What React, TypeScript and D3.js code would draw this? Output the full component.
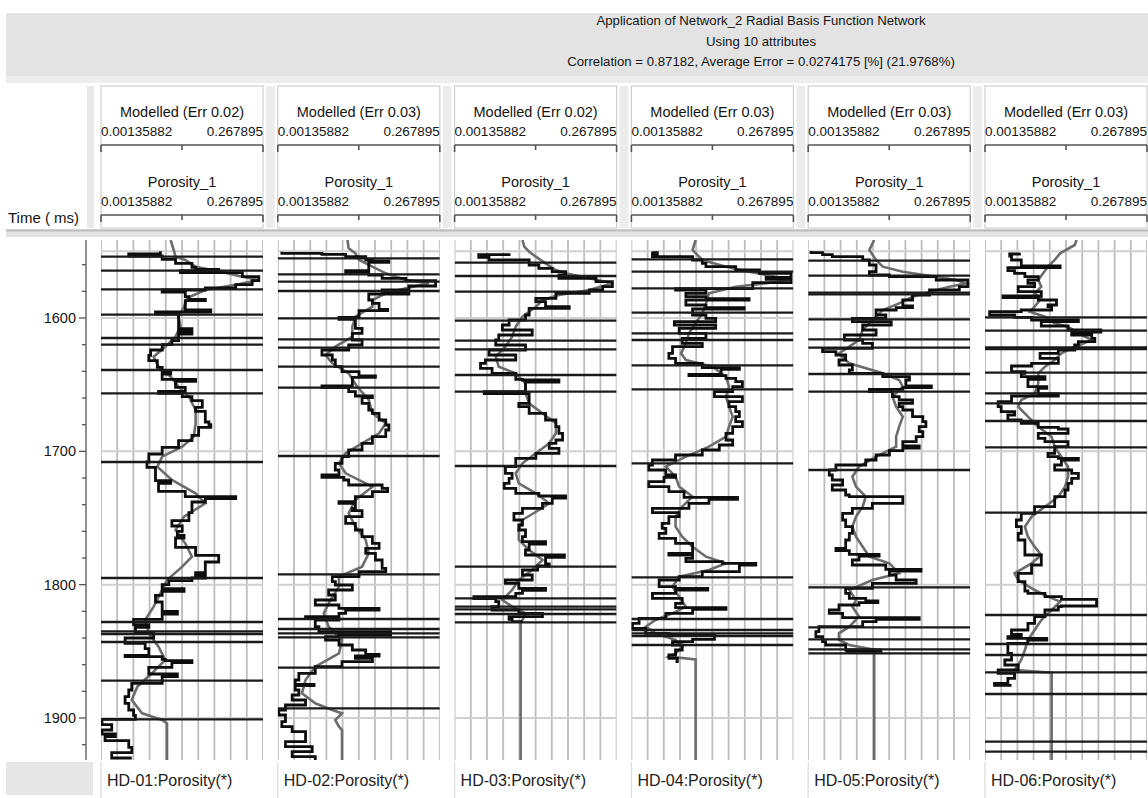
import React, { useEffect } from "react";
import * as d3 from "d3";

const wells = ["HD-01", "HD-02", "HD-03", "HD-04", "HD-05", "HD-06"];
const modelErrors = [0.02, 0.03, 0.02, 0.03, 0.03, 0.03];
const rangeMin = 0.00135882;
const rangeMax = 0.267895;
const timeTicks = [1600, 1700, 1800, 1900];
const titleLines = [
  "Application of Network_2 Radial Basis Function Network",
  "Using 10 attributes",
  "Correlation = 0.87182, Average Error = 0.0274175 [%] (21.9768%)",
];

// [time ms, porosity] – measured log (step) and network output
const actual01 = [
  [1550, 0.099], [1552, 0.047], [1553.5, 0.102], [1556, 0.124], [1559, 0.151], [1562, 0.157],
  [1563.5, 0.195], [1564.5, 0.132], [1566, 0.234], [1569, 0.261], [1572, 0.25], [1575, 0.223],
  [1577.5, 0.173], [1579, 0.102], [1580.5, 0.14], [1584, 0.146], [1586, 0.173], [1587, 0.14],
  [1594, 0.182], [1595.5, 0.091], [1597, 0.129], [1608, 0.151], [1609.5, 0.129], [1611, 0.151],
  [1612, 0.129], [1617, 0.118], [1620, 0.102], [1624, 0.083], [1628, 0.08], [1632, 0.094],
  [1637, 0.102], [1640, 0.116], [1642, 0.102], [1646, 0.157], [1647.5, 0.124], [1652, 0.14],
  [1655, 0.096], [1656.5, 0.135], [1659, 0.151], [1662, 0.168], [1667, 0.157], [1670, 0.173],
  [1678, 0.179], [1680, 0.182], [1682, 0.162], [1688, 0.151], [1692, 0.129], [1697, 0.102],
  [1702, 0.08], [1708, 0.077], [1712, 0.091], [1722, 0.116], [1724, 0.096], [1730, 0.14],
  [1734, 0.223], [1735.5, 0.173], [1738, 0.151], [1746, 0.146], [1752, 0.118], [1756, 0.135],
  [1760, 0.127], [1763, 0.138], [1765, 0.124], [1772, 0.157], [1778, 0.195], [1783, 0.173],
  [1791, 0.157], [1793, 0.173], [1795, 0.151], [1797, 0.113], [1800, 0.102], [1803, 0.138],
  [1805, 0.102], [1808, 0.091], [1813, 0.102], [1820, 0.127], [1822, 0.102], [1826, 0.055],
  [1830, 0.08], [1832, 0.058], [1836, 0.088], [1840, 0.041], [1844, 0.074], [1848, 0.08],
  [1853, 0.041], [1854, 0.102], [1856, 0.107], [1857, 0.151], [1858.5, 0.118], [1862, 0.08],
  [1867, 0.127], [1869, 0.102], [1874, 0.052], [1879, 0.047], [1884, 0.041], [1889, 0.047],
  [1894, 0.055], [1898, 0.058], [1901, 0.003], [1905, 0.019], [1909, 0.003], [1912, 0.025],
  [1914, 0.008], [1917, 0.047], [1922, 0.052], [1926, 0.019], [1930, 0.052],
];
const modelled01 = [
  [1541.5, 0.116], [1549, 0.121], [1554, 0.124], [1556.5, 0.14], [1561.5, 0.157], [1565, 0.195],
  [1569, 0.234], [1571.5, 0.261], [1575, 0.223], [1579, 0.173], [1585, 0.143], [1591.5, 0.138],
  [1599, 0.129], [1606.5, 0.132], [1614, 0.124], [1621.5, 0.107], [1629, 0.088], [1636.5, 0.096],
  [1644, 0.116], [1651.5, 0.129], [1659, 0.146], [1669, 0.157], [1679, 0.157], [1689, 0.154],
  [1696.5, 0.135], [1704, 0.102], [1711.5, 0.094], [1721.5, 0.118], [1731.5, 0.157], [1739, 0.173],
  [1749, 0.138], [1759, 0.124], [1769, 0.14], [1779, 0.151], [1786.5, 0.135], [1796.5, 0.11],
  [1806.5, 0.099], [1816.5, 0.088], [1826.5, 0.074], [1836.5, 0.08], [1846.5, 0.096], [1856.5, 0.107],
  [1866.5, 0.085], [1876.5, 0.061], [1886.5, 0.052], [1896.5, 0.069], [1901.5, 0.102], [1904, 0.11],
  [1933, 0.11],
];
const spikes01 = [1554, 1564.5, 1578.5, 1597.5, 1615, 1620, 1639, 1656.5, 1708, 1795, 1828, 1835, 1837, 1843, 1872, 1901];

const actual02 = [
  [1550.25, 0.008], [1551.5, 0.074], [1552.25, 0.113], [1554, 0.146], [1556.5, 0.157], [1557.25, 0.184],
  [1558.25, 0.151], [1564.5, 0.113], [1565.75, 0.151], [1567.75, 0.173], [1570.25, 0.212], [1572, 0.261],
  [1576, 0.217], [1579, 0.173], [1581, 0.217], [1582, 0.151], [1586.5, 0.157], [1589, 0.168],
  [1593.5, 0.182], [1594.5, 0.135], [1599.5, 0.102], [1601, 0.129], [1607.75, 0.14], [1611.5, 0.124],
  [1616.5, 0.14], [1620.25, 0.118], [1624, 0.074], [1627.75, 0.091], [1631.5, 0.096], [1636.5, 0.107],
  [1640.25, 0.135], [1643.5, 0.162], [1644.5, 0.124], [1651, 0.074], [1652.25, 0.118], [1655.25, 0.129],
  [1658.5, 0.157], [1659.75, 0.14], [1664, 0.151], [1669, 0.157], [1671.5, 0.168], [1676.5, 0.179],
  [1680.25, 0.184], [1684, 0.179], [1689, 0.157], [1694, 0.14], [1699, 0.118], [1704, 0.107],
  [1709, 0.096], [1714, 0.102], [1717.75, 0.074], [1719.5, 0.11], [1721.5, 0.118], [1725.25, 0.173],
  [1727.75, 0.182], [1730.25, 0.157], [1734, 0.129], [1737.75, 0.102], [1739, 0.129], [1742.75, 0.124],
  [1744.5, 0.14], [1749, 0.113], [1754, 0.129], [1759, 0.14], [1764, 0.157], [1769, 0.168],
  [1772.75, 0.146], [1776.5, 0.162], [1781.5, 0.173], [1787.75, 0.179], [1790.25, 0.135], [1794, 0.091],
  [1797.75, 0.096], [1800.25, 0.124], [1804, 0.085], [1807.75, 0.096], [1811.5, 0.063], [1815.25, 0.102],
  [1817.75, 0.168], [1819, 0.113], [1821.5, 0.102], [1824, 0.047], [1825.5, 0.102], [1826.5, 0.063],
  [1831.5, 0.069], [1835.25, 0.187], [1837.75, 0.102], [1839, 0.08], [1841.5, 0.102], [1845.25, 0.124],
  [1849, 0.146], [1852.25, 0.168], [1853.5, 0.129], [1855.25, 0.157], [1857.75, 0.107], [1861.5, 0.063],
  [1866.5, 0.036], [1871.5, 0.03], [1874.75, 0.061], [1875.75, 0.03], [1879, 0.036], [1882.75, 0.025],
  [1886.5, 0.047], [1890.25, 0.014], [1894, 0.003], [1897.75, 0.014], [1902.75, 0.008], [1906.5, 0.025],
  [1910.25, 0.047], [1917.75, 0.014], [1921.5, 0.058], [1925.25, 0.025], [1929, 0.063], [1932.75, 0.025],
];
const modelled02 = [
  [1541.5, 0.116], [1547.75, 0.118], [1551.5, 0.129], [1556.5, 0.135], [1561.5, 0.157], [1566.5, 0.179],
  [1571.5, 0.212], [1574, 0.25], [1577.75, 0.212], [1581.5, 0.179], [1586.5, 0.157], [1591.5, 0.157],
  [1599, 0.129], [1606.5, 0.124], [1614, 0.124], [1621.5, 0.096], [1627.75, 0.08], [1634, 0.091],
  [1641.5, 0.118], [1651.5, 0.132], [1661.5, 0.151], [1671.5, 0.157], [1679, 0.179], [1686.5, 0.168],
  [1694, 0.14], [1701.5, 0.113], [1709, 0.102], [1716.5, 0.113], [1726.5, 0.157], [1736.5, 0.129],
  [1746.5, 0.118], [1756.5, 0.129], [1766.5, 0.146], [1776.5, 0.151], [1786.5, 0.14], [1794, 0.102],
  [1801.5, 0.102], [1811.5, 0.088], [1821.5, 0.077], [1831.5, 0.085], [1841.5, 0.107], [1851.5, 0.102],
  [1861.5, 0.063], [1871.5, 0.047], [1881.5, 0.041], [1889, 0.063], [1894, 0.091], [1896.5, 0.107],
  [1901.5, 0.096], [1906.5, 0.102], [1909, 0.107], [1933, 0.107],
];
const spikes02 = [1555.25, 1567.25, 1572.75, 1579.75, 1600.25, 1616, 1622.25, 1636.5, 1652.25, 1703.5, 1792.25, 1825.75, 1833.25, 1836.5, 1839.5, 1862.25, 1892.75];

const actual03 = [
  [1551.5, 0.091], [1552.5, 0.041], [1554.5, 0.058], [1556.5, 0.124], [1560.25, 0.14], [1562.75, 0.162],
  [1565.25, 0.184], [1567.75, 0.173], [1570.25, 0.234], [1572.75, 0.261], [1576.5, 0.245], [1579, 0.223],
  [1581.5, 0.168], [1585.25, 0.135], [1587.75, 0.151], [1591.5, 0.19], [1592.75, 0.124], [1597.75, 0.118],
  [1601.5, 0.091], [1605.25, 0.08], [1609, 0.129], [1612.75, 0.074], [1616.5, 0.069], [1620.25, 0.118],
  [1624, 0.058], [1627.75, 0.102], [1631.5, 0.052], [1634, 0.044], [1637.75, 0.063], [1641.5, 0.102],
  [1646, 0.113], [1646.5, 0.173], [1648, 0.118], [1655.25, 0.05], [1656.75, 0.124], [1664, 0.107],
  [1666.5, 0.124], [1671.5, 0.151], [1676.5, 0.168], [1681.5, 0.173], [1686.5, 0.179], [1691.5, 0.168],
  [1694, 0.157], [1697.75, 0.173], [1701.5, 0.135], [1705.25, 0.102], [1711.5, 0.085], [1716.5, 0.096],
  [1720.25, 0.091], [1724, 0.083], [1727.75, 0.102], [1731.5, 0.14], [1733.5, 0.184], [1735, 0.162],
  [1739, 0.146], [1742.75, 0.113], [1746.5, 0.099], [1751.5, 0.113], [1755.25, 0.107], [1759, 0.118],
  [1764, 0.113], [1767.75, 0.151], [1769.5, 0.124], [1774, 0.118], [1777.75, 0.182], [1779.5, 0.151],
  [1784.5, 0.157], [1786, 0.138], [1789, 0.113], [1792.75, 0.129], [1796.5, 0.085], [1799, 0.107],
  [1802.75, 0.151], [1804.25, 0.113], [1806.5, 0.102], [1809, 0.033], [1810.5, 0.069], [1812.75, 0.074],
  [1816.5, 0.063], [1819, 0.107], [1821.5, 0.146], [1824, 0.091], [1826, 0.096], [1827.75, 0.113],
];
const modelled03 = [
  [1541.5, 0.113], [1546.5, 0.116], [1550.25, 0.124], [1554, 0.135], [1559, 0.151], [1564, 0.168],
  [1566.5, 0.184], [1570.25, 0.223], [1574, 0.261], [1579, 0.223], [1582.75, 0.173], [1586.5, 0.146],
  [1591.5, 0.135], [1599, 0.113], [1606.5, 0.102], [1614, 0.096], [1621.5, 0.085], [1629, 0.069],
  [1636.5, 0.074], [1641.5, 0.102], [1649, 0.118], [1656.5, 0.118], [1664, 0.124], [1671.5, 0.146],
  [1679, 0.168], [1686.5, 0.168], [1694, 0.157], [1701.5, 0.135], [1709, 0.113], [1716.5, 0.102],
  [1724, 0.107], [1731.5, 0.135], [1739, 0.157], [1744, 0.14], [1751.5, 0.113], [1759, 0.107],
  [1766.5, 0.107], [1774, 0.124], [1781.5, 0.146], [1789, 0.129], [1796.5, 0.107], [1804, 0.096],
  [1811.5, 0.08], [1816.5, 0.096], [1821.5, 0.118], [1826.5, 0.113], [1829, 0.11], [1933, 0.11],
];
const spikes03 = [1558.5, 1568.5, 1580.25, 1602, 1617, 1623.5, 1642.75, 1655.25, 1711, 1786.5, 1810.25, 1816.5, 1818.5, 1822, 1828.25];

const actual04 = [
  [1550.25, 0.036], [1551, 0.044], [1552.75, 0.036], [1554, 0.102], [1556.5, 0.118], [1559, 0.124],
  [1561.5, 0.173], [1564, 0.212], [1566.5, 0.264], [1569.5, 0.223], [1571, 0.264], [1573.5, 0.201],
  [1578, 0.074], [1579, 0.124], [1581.5, 0.091], [1584, 0.124], [1585.5, 0.195], [1586.5, 0.091],
  [1590.25, 0.124], [1592.25, 0.187], [1593.25, 0.102], [1597.75, 0.124], [1600.25, 0.14], [1602.75, 0.072],
  [1605.25, 0.14], [1607.75, 0.08], [1611.5, 0.124], [1615.25, 0.085], [1619, 0.118], [1621.5, 0.069],
  [1626.5, 0.063], [1630.25, 0.074], [1634, 0.118], [1637.25, 0.179], [1638.5, 0.149], [1642.25, 0.096],
  [1643.25, 0.157], [1645.25, 0.173], [1647.75, 0.184], [1651.5, 0.168], [1655.25, 0.138], [1659, 0.184],
  [1662.75, 0.162], [1666.5, 0.173], [1670.25, 0.179], [1674, 0.173], [1677.75, 0.184], [1681.5, 0.168],
  [1686.5, 0.157], [1691.5, 0.168], [1695.25, 0.146], [1699, 0.118], [1702.75, 0.074], [1706.5, 0.036],
  [1710.25, 0.03], [1714, 0.058], [1717.75, 0.074], [1719.5, 0.055], [1722.75, 0.03], [1726.5, 0.063],
  [1730.25, 0.088], [1734.5, 0.176], [1736, 0.129], [1739, 0.096], [1742.75, 0.036], [1746, 0.08],
  [1749, 0.063], [1754, 0.052], [1757.75, 0.058], [1761.5, 0.047], [1765.25, 0.074], [1769, 0.102],
  [1776.5, 0.063], [1777.75, 0.102], [1780.25, 0.091], [1782.75, 0.151], [1784, 0.206], [1785.25, 0.179],
  [1790.25, 0.118], [1794, 0.08], [1796.5, 0.047], [1801.5, 0.074], [1802.75, 0.127], [1804, 0.074],
  [1806.5, 0.036], [1810.25, 0.085], [1814, 0.074], [1817.25, 0.157], [1818.5, 0.102], [1821.5, 0.058],
  [1825.25, 0.014], [1829, 0.003], [1832.75, 0.025], [1836.5, 0.063], [1837.75, 0.138], [1841, 0.102],
  [1842.75, 0.069], [1845.25, 0.085], [1849, 0.074], [1852.75, 0.063], [1855.25, 0.077], [1857.75, 0.074],
];
const modelled04 = [
  [1541.5, 0.107], [1549, 0.102], [1556.5, 0.118], [1561.5, 0.157], [1565.25, 0.195], [1569, 0.239],
  [1571.5, 0.261], [1574, 0.223], [1576.5, 0.173], [1581.5, 0.129], [1589, 0.124], [1596.5, 0.118],
  [1604, 0.107], [1611.5, 0.096], [1619, 0.091], [1626.5, 0.083], [1631.5, 0.091], [1636.5, 0.135],
  [1644, 0.157], [1651.5, 0.162], [1659, 0.157], [1666.5, 0.162], [1674, 0.168], [1681.5, 0.162],
  [1689, 0.157], [1696.5, 0.129], [1704, 0.091], [1711.5, 0.058], [1719, 0.074], [1726.5, 0.08],
  [1734, 0.102], [1741.5, 0.085], [1749, 0.074], [1756.5, 0.074], [1764, 0.085], [1771.5, 0.102],
  [1779, 0.124], [1784, 0.157], [1789, 0.129], [1794, 0.08], [1801.5, 0.069], [1809, 0.08],
  [1816.5, 0.091], [1821.5, 0.069], [1826.5, 0.041], [1831.5, 0.025], [1836.5, 0.041], [1841.5, 0.074],
  [1846.5, 0.085], [1851.5, 0.074], [1854, 0.063], [1856, 0.107], [1933, 0.107],
];
const spikes04 = [1556, 1565.25, 1577.75, 1596, 1611.5, 1616.5, 1635.5, 1653.5, 1709, 1794.5, 1825.75, 1834, 1836.5, 1838.5, 1845.25];

const actual05 = [
  [1549.75, 0.006], [1551, 0.025], [1552.5, 0.041], [1554, 0.091], [1556.5, 0.102], [1560.25, 0.113],
  [1565.25, 0.102], [1567.75, 0.135], [1569, 0.212], [1571.5, 0.264], [1576.5, 0.25], [1579, 0.201],
  [1582.75, 0.173], [1586.5, 0.157], [1591, 0.173], [1592.25, 0.146], [1594, 0.113], [1597.75, 0.129],
  [1600.25, 0.074], [1602.75, 0.138], [1605.25, 0.091], [1609, 0.113], [1612.75, 0.061], [1616.5, 0.091],
  [1619, 0.107], [1622.75, 0.025], [1625.25, 0.047], [1627.75, 0.063], [1631.5, 0.052], [1635.25, 0.074],
  [1639, 0.069], [1641.5, 0.124], [1644, 0.168], [1646.5, 0.162], [1651, 0.204], [1652.25, 0.157],
  [1653.5, 0.102], [1655.25, 0.14], [1659, 0.151], [1661.5, 0.173], [1664, 0.151], [1666.5, 0.157],
  [1669, 0.173], [1674, 0.19], [1677.75, 0.195], [1681.5, 0.184], [1685.25, 0.19], [1689, 0.179],
  [1692.75, 0.157], [1696, 0.184], [1697.5, 0.157], [1699.5, 0.135], [1702.75, 0.113], [1706.5, 0.096],
  [1710.25, 0.047], [1714, 0.036], [1717.75, 0.041], [1721.5, 0.058], [1725.25, 0.041], [1729, 0.063],
  [1732.75, 0.069], [1734, 0.157], [1739, 0.107], [1742.75, 0.074], [1746.5, 0.058], [1751.5, 0.063],
  [1756.5, 0.074], [1761.5, 0.069], [1766.5, 0.063], [1772.75, 0.047], [1774.5, 0.069], [1777.25, 0.118],
  [1778.5, 0.085], [1781.5, 0.074], [1785.25, 0.129], [1788.5, 0.187], [1789.75, 0.135], [1792.75, 0.146],
  [1796.5, 0.179], [1799, 0.107], [1802.75, 0.063], [1806.5, 0.069], [1810.25, 0.096], [1812.25, 0.116],
  [1813.5, 0.085], [1815.25, 0.052], [1819, 0.036], [1821.5, 0.058], [1824.75, 0.184], [1826, 0.113],
  [1827.75, 0.091], [1831.5, 0.019], [1835.25, 0.014], [1839, 0.025], [1842.75, 0.03], [1845.25, 0.063],
  [1849, 0.121], [1850, 0.063],
];
const modelled05 = [
  [1541.5, 0.11], [1549, 0.102], [1556.5, 0.113], [1561.5, 0.124], [1565.25, 0.157], [1569, 0.212],
  [1571.5, 0.245], [1574, 0.261], [1576.5, 0.234], [1579, 0.212], [1584, 0.173], [1589, 0.151],
  [1594, 0.124], [1601.5, 0.107], [1609, 0.091], [1616.5, 0.085], [1621.5, 0.069], [1626.5, 0.052],
  [1634, 0.069], [1641.5, 0.124], [1646.5, 0.151], [1651.5, 0.157], [1659, 0.14], [1666.5, 0.146],
  [1674, 0.157], [1681.5, 0.151], [1689, 0.146], [1696.5, 0.146], [1704, 0.113], [1711.5, 0.085],
  [1719, 0.074], [1726.5, 0.08], [1734, 0.096], [1741.5, 0.091], [1749, 0.08], [1756.5, 0.074],
  [1764, 0.08], [1771.5, 0.091], [1779, 0.102], [1784, 0.135], [1791.5, 0.151], [1796.5, 0.107],
  [1804, 0.069], [1811.5, 0.08], [1816.5, 0.074], [1824, 0.085], [1831.5, 0.069], [1836.5, 0.052],
  [1841.5, 0.052], [1845.25, 0.069], [1849, 0.113], [1850, 0.11], [1933, 0.11],
];
const spikes05 = [1557, 1568.25, 1581, 1582.25, 1601, 1616, 1622.25, 1642, 1655.25, 1714, 1802, 1832, 1841, 1848.5, 1851.5];

const actual06 = [
  [1551, 0.058], [1552, 0.042], [1553.5, 0.045], [1556.5, 0.061], [1561, 0.125], [1562.25, 0.039],
  [1564.5, 0.05], [1566.5, 0.067], [1569, 0.089], [1571.5, 0.072], [1574, 0.083], [1576.5, 0.056],
  [1580.25, 0.094], [1583.5, 0.031], [1584.75, 0.089], [1586.5, 0.119], [1590.25, 0.105], [1591.5, 0.111],
  [1594, 0.061], [1595.25, 0.009], [1597.75, 0.05], [1599.5, 0.078], [1601.5, 0.155], [1602.75, 0.094],
  [1606, 0.138], [1609, 0.192], [1610.5, 0.144], [1612.75, 0.177], [1615.25, 0.182], [1617.75, 0.155],
  [1620.25, 0.149], [1624, 0.122], [1626.5, 0.092], [1630.25, 0.122], [1634, 0.078], [1636, 0.045],
  [1640.25, 0.067], [1641.5, 0.061], [1644, 0.1], [1646, 0.072], [1651.5, 0.103], [1652.75, 0.089],
  [1657, 0.122], [1658.5, 0.045], [1662.75, 0.023], [1666.5, 0.028], [1670.25, 0.05], [1672.75, 0.039],
  [1676.5, 0.061], [1679, 0.089], [1682, 0.122], [1683.25, 0.138], [1686.5, 0.089], [1690.25, 0.1],
  [1692.75, 0.138], [1696.5, 0.116], [1701.5, 0.105], [1704, 0.122], [1705.25, 0.155], [1706.5, 0.127],
  [1710.25, 0.116], [1714, 0.144], [1716.5, 0.155], [1720.25, 0.144], [1724, 0.138], [1729, 0.133],
  [1734, 0.116], [1741.5, 0.083], [1746.5, 0.061], [1751.5, 0.053], [1756.5, 0.061], [1761.5, 0.056],
  [1766.5, 0.067], [1777.75, 0.094], [1785.25, 0.078], [1791.5, 0.056], [1797.75, 0.067], [1804.75, 0.072],
  [1806.5, 0.1], [1809, 0.127], [1811, 0.185], [1816, 0.127], [1816.5, 0.122], [1819, 0.1],
  [1824, 0.083], [1829, 0.072], [1834, 0.045], [1837.25, 0.061], [1839, 0.039], [1840.25, 0.103],
  [1841.5, 0.072], [1844, 0.039], [1851.5, 0.045], [1856.5, 0.034], [1860.25, 0.056], [1864, 0.023],
  [1866.5, 0.05], [1870.25, 0.039], [1874, 0.017], [1875.5, 0.045],
];
const modelled06 = [
  [1541.5, 0.152], [1545.25, 0.149], [1551.5, 0.125], [1556.5, 0.116], [1561.5, 0.105], [1566.5, 0.097],
  [1571.5, 0.089], [1576.5, 0.094], [1581.5, 0.083], [1585.25, 0.094], [1591.5, 0.083], [1595.25, 0.075],
  [1599, 0.1], [1604, 0.116], [1606.5, 0.138], [1611.5, 0.155], [1616.5, 0.177], [1621.5, 0.149],
  [1626.5, 0.127], [1631.5, 0.116], [1636.5, 0.1], [1641.5, 0.089], [1649, 0.089], [1656.5, 0.083],
  [1661.5, 0.061], [1666.5, 0.056], [1674, 0.072], [1681.5, 0.089], [1689, 0.111], [1696.5, 0.116],
  [1704, 0.127], [1711.5, 0.138], [1719, 0.138], [1726.5, 0.133], [1734, 0.122], [1741.5, 0.1],
  [1749, 0.078], [1756.5, 0.067], [1764, 0.072], [1771.5, 0.083], [1777.75, 0.094], [1784, 0.078],
  [1791.5, 0.05], [1796.5, 0.056], [1804, 0.083], [1809, 0.105], [1812.75, 0.125], [1819, 0.111],
  [1826.5, 0.094], [1834, 0.083], [1841.5, 0.072], [1849, 0.067], [1856.5, 0.061], [1864, 0.05],
  [1866, 0.111], [1933, 0.111],
];
const spikes06 = [1599.5, 1609.5, 1622, 1623.25, 1641, 1656.5, 1664, 1677.25, 1697, 1746, 1822.75, 1844.5, 1852.75, 1865.75, 1882, 1917.75, 1925.25];

const actualLogs = [actual01, actual02, actual03, actual04, actual05, actual06];
const modelledLogs = [modelled01, modelled02, modelled03, modelled04, modelled05, modelled06];
const spikeLogs = [spikes01, spikes02, spikes03, spikes04, spikes05, spikes06];

const FONT = "'Liberation Sans', Arial, sans-serif";

export default function App() {
  useEffect(() => {
    document.body.style.margin = "0";
  }, []);

  const W = 1148;
  const H = 798;
  const band = d3.scaleBand().domain(wells).range([101, 1147]).paddingInner(0.0837).paddingOuter(0);
  const bw = band.bandwidth();
  const y = d3.scaleLinear().domain([1541.5, 1931.5]).range([240, 760]);
  const gridVals = d3.range(11).map((i) => rangeMin + ((rangeMax - rangeMin) * i) / 10);
  const minorTicks = d3.range(1560, 1931, 20);

  return (
    <svg width={W} height={H} style={{ display: "block", fontFamily: FONT }}>
      <rect x={0} y={0} width={W} height={H} fill="#fff" />
      {/* title band */}
      <rect x={6} y={13} width={W - 6} height={63} fill="#e3e3e3" />
      <rect x={6} y={76} width={W - 6} height={7} fill="#ededed" />
      {titleLines.map((t, i) => (
        <text key={t} x={761} y={25 + i * 20.5} textAnchor="middle" fontSize={13.2} fill="#151515">
          {t}
        </text>
      ))}

      {/* header */}
      <rect x={87} y={86} width={7} height={142} fill="#e8e8e8" />
      <text x={8} y={223} fontSize={15} fill="#151515">Time ( ms)</text>
      {wells.map((w, i) => {
        const x0 = band(w);
        const xs = d3.scaleLinear().domain([rangeMin, rangeMax]).range([x0, x0 + bw]);
        const mid = (rangeMin + rangeMax) / 2;
        const rows = [
          { label: `Modelled (Err ${modelErrors[i].toFixed(2)})`, top: 117 },
          { label: "Porosity_1", top: 187 },
        ];
        return (
          <g key={w}>
            <rect x={x0} y={86} width={bw} height={142} fill="#fff" stroke="#cfcfcf" strokeWidth={1.2} />
            {i < wells.length - 1 && (
              <rect x={x0 + bw + 3} y={86} width={band.step() - bw - 6} height={142} fill="#ececec" />
            )}
            {rows.map((r) => (
              <g key={r.label}>
                <text x={x0 + bw / 2} y={r.top} textAnchor="middle" fontSize={14.5} fill="#151515">
                  {r.label}
                </text>
                <text x={x0} y={r.top + 19} fontSize={13.5} fill="#151515">
                  {String(rangeMin)}
                </text>
                <text x={x0 + bw} y={r.top + 19} textAnchor="end" fontSize={13.5} fill="#151515">
                  {String(rangeMax)}
                </text>
                <line x1={xs(rangeMin)} x2={xs(rangeMax)} y1={r.top + 28} y2={r.top + 28} stroke="#555" strokeWidth={1.6} />
                <line x1={xs(rangeMin)} x2={xs(rangeMin)} y1={r.top + 28} y2={r.top + 35} stroke="#555" strokeWidth={1.6} />
                <line x1={xs(rangeMax)} x2={xs(rangeMax)} y1={r.top + 28} y2={r.top + 35} stroke="#555" strokeWidth={1.6} />
                <line x1={xs(mid)} x2={xs(mid)} y1={r.top + 28} y2={r.top + 33} stroke="#555" strokeWidth={1.6} />
              </g>
            ))}
          </g>
        );
      })}

      {/* separator */}
      <rect x={6} y={229} width={W - 6} height={8} fill="#e2e2e2" />
      <line x1={6} x2={W} y1={230.5} y2={230.5} stroke="#bdbdbd" strokeWidth={2} />

      {/* time axis */}
      <line x1={86} x2={86} y1={240} y2={760} stroke="#555" strokeWidth={1.3} />
      {minorTicks.map((t) => (
        <line key={t} x1={t % 100 === 0 ? 79 : 82} x2={86} y1={y(t)} y2={y(t)} stroke="#555" strokeWidth={1.3} />
      ))}
      {timeTicks.map((t) => (
        <text key={t} x={76} y={y(t) + 5} textAnchor="end" fontSize={14.5} fill="#151515">
          {t}
        </text>
      ))}

      <defs>
        {wells.map((w) => (
          <clipPath key={w} id={`clip-${w}`}>
            <rect x={band(w)} y={240} width={bw} height={520} />
          </clipPath>
        ))}
      </defs>

      {/* tracks */}
      {wells.map((w, i) => {
        const x0 = band(w);
        const xs = d3.scaleLinear().domain([rangeMin, rangeMax]).range([x0, x0 + bw]);
        const actualLine = d3
          .line()
          .x((d) => xs(d[1]))
          .y((d) => y(d[0]))
          .curve(d3.curveStepBefore);
        const modelLine = d3
          .line()
          .x((d) => xs(d[1]))
          .y((d) => y(d[0]));
        return (
          <g key={w}>
            <g clipPath={`url(#clip-${w})`}>
              {gridVals.map((v, k) => (
                <line key={k} x1={xs(v)} x2={xs(v)} y1={240} y2={760} stroke="#bdbdbd" strokeWidth={1.8} />
              ))}
              {[1550, ...timeTicks].map((t) => (
                <line key={t} x1={x0} x2={x0 + bw} y1={y(t)} y2={y(t)} stroke="#d0d0d0" strokeWidth={2} />
              ))}
              <path d={modelLine(modelledLogs[i])} fill="none" stroke="#6c6c6c" strokeWidth={2.6} />
              <path d={actualLine(actualLogs[i])} fill="none" stroke="#0d0d0d" strokeWidth={2.8} strokeLinejoin="miter" />
              {spikeLogs[i].map((t) => (
                <line key={t} x1={x0} x2={x0 + bw} y1={y(t)} y2={y(t)} stroke="#1a1a1a" strokeWidth={2.3} />
              ))}
            </g>
          </g>
        );
      })}

      {/* footer labels */}
      <rect x={6} y={762} width={87} height={33} fill="#e6e6e6" />
      {wells.map((w) => (
        <g key={w}>
          <line x1={band(w)} x2={band(w)} y1={762} y2={798} stroke="#dcdcdc" strokeWidth={1.2} />
          <text x={band(w) + 6} y={786} fontSize={16} fill="#222">
            {`${w}:Porosity(*)`}
          </text>
        </g>
      ))}
    </svg>
  );
}
